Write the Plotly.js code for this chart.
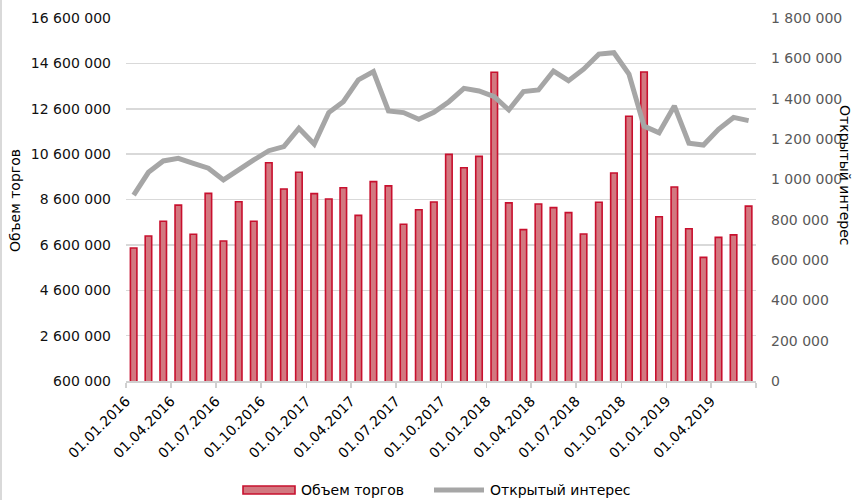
<!DOCTYPE html>
<html>
<head>
<meta charset="utf-8">
<script src="https://cdn.plot.ly/plotly-3.0.1.min.js"></script>
<style>html,body{margin:0;padding:0;background:#fff}#chart{width:859px;height:500px}</style>
</head>
<body>
<div id="chart"></div>
<script>
// Monthly dates (first day of each month), Jan 2016 – Jun 2019
const months = [
  "2016-01-01","2016-02-01","2016-03-01","2016-04-01","2016-05-01","2016-06-01",
  "2016-07-01","2016-08-01","2016-09-01","2016-10-01","2016-11-01","2016-12-01",
  "2017-01-01","2017-02-01","2017-03-01","2017-04-01","2017-05-01","2017-06-01",
  "2017-07-01","2017-08-01","2017-09-01","2017-10-01","2017-11-01","2017-12-01",
  "2018-01-01","2018-02-01","2018-03-01","2018-04-01","2018-05-01","2018-06-01",
  "2018-07-01","2018-08-01","2018-09-01","2018-10-01","2018-11-01","2018-12-01",
  "2019-01-01","2019-02-01","2019-03-01","2019-04-01","2019-05-01","2019-06-01"
];
// Объем торгов (left axis)
const volume = [
  6460000, 6990000, 7640000, 8350000, 7070000, 8870000,
  6770000, 8500000, 7640000, 10220000, 9060000, 9800000,
  8860000, 8620000, 9120000, 7900000, 9390000, 9200000,
  7510000, 8150000, 8490000, 10590000, 10000000, 10500000,
  14210000, 8450000, 7270000, 8400000, 8240000, 8020000,
  7080000, 8480000, 9770000, 12270000, 14220000, 7840000,
  9150000, 7310000, 6050000, 6930000, 7040000, 8310000
];
// Открытый интерес (right axis)
const openInterest = [
  922000, 1035000, 1091000, 1104000, 1079000, 1055000,
  997000, 1050000, 1096000, 1142000, 1162000, 1253000,
  1175000, 1331000, 1385000, 1493000, 1534000, 1339000,
  1331000, 1298000, 1332000, 1385000, 1451000, 1438000,
  1410000, 1344000, 1435000, 1443000, 1537000, 1489000,
  1546000, 1621000, 1628000, 1522000, 1264000, 1231000,
  1364000, 1179000, 1170000, 1248000, 1307000, 1291000
];
// Tick labels (quarterly), last tick at axis end is unlabeled
const tickDates = ["2016-01-01","2016-04-01","2016-07-01","2016-10-01",
  "2017-01-01","2017-04-01","2017-07-01","2017-10-01",
  "2018-01-01","2018-04-01","2018-07-01","2018-10-01",
  "2019-01-01","2019-04-01","2019-07-01"];
const tickLabels = ["01.01.2016","01.04.2016","01.07.2016","01.10.2016",
  "01.01.2017","01.04.2017","01.07.2017","01.10.2017",
  "01.01.2018","01.04.2018","01.07.2018","01.10.2018",
  "01.01.2019","01.04.2019",""];
const seriesNames = ["Объем торгов", "Открытый интерес"];
const leftTitle = "Объем торгов";
const rightTitle = "Открытый интерес";

const FONT = "DejaVu Sans";
const barFill = "#d27880";
const barLine = "#c8102e";
const lineColor = "#a6a6a6";

// helpers: pixel -> paper (plot area x 126..756, y 18..381)
const L = 126, R = 756, T = 18, B = 381;
const px = x => (x - L) / (R - L);
const py = y => (B - y) / (B - T);

const traces = [
  {
    type: "bar", name: seriesNames[0], x: months, y: volume,
    xperiod: "M1", xperiodalignment: "middle",
    width: 13.2 * 86400000,
    marker: {color: barFill, line: {color: barLine, width: 1.6}},
    showlegend: false, hoverinfo: "x+y"
  },
  {
    type: "scatter", mode: "lines", name: seriesNames[1], x: months, y: openInterest,
    xperiod: "M1", xperiodalignment: "middle",
    yaxis: "y2",
    line: {color: lineColor, width: 5, shape: "linear"},
    showlegend: false
  }
];

const layout = {
  width: 859, height: 500,
  margin: {l: L, r: 859 - R, t: T, b: 500 - B, pad: 0},
  paper_bgcolor: "#ffffff", plot_bgcolor: "#ffffff",
  font: {family: FONT, size: 14, color: "#000"},
  showlegend: false,
  xaxis: {
    type: "date",
    range: ["2016-01-01", "2019-07-01"],
    tickmode: "array", tickvals: tickDates, ticktext: tickLabels,
    tickangle: -45,
    ticks: "outside", ticklen: 5, tickcolor: "#d0d0d0", tickwidth: 1.5,
    showline: true, linecolor: "#d0d0d0", linewidth: 1.5,
    showgrid: false, zeroline: false,
    tickfont: {family: FONT, size: 14, color: "#000"}
  },
  yaxis: {
    range: [600000, 16600000], dtick: 2000000, tick0: 600000,
    tickformat: ",d",
    showgrid: true, gridcolor: "#d9d9d9", gridwidth: 1.5,
    zeroline: false, showline: false, ticks: "",
    ticklabelstandoff: 14,
    tickfont: {family: FONT, size: 14, color: "#111"}
  },
  yaxis2: {
    overlaying: "y", side: "right",
    range: [0, 1800000], dtick: 200000,
    tickformat: ",d",
    showgrid: false, zeroline: false, showline: false, ticks: "",
    ticklabelstandoff: 14,
    tickfont: {family: FONT, size: 14, color: "#595959"}
  },
  separators: ", ",
  annotations: [
    {xref: "paper", yref: "paper", x: px(15), y: py(200), text: leftTitle, textangle: -90,
     showarrow: false, xanchor: "center", yanchor: "middle", font: {family: FONT, size: 14, color: "#000"}},
    {xref: "paper", yref: "paper", x: px(845), y: py(175), text: rightTitle, textangle: 90,
     showarrow: false, xanchor: "center", yanchor: "middle", font: {family: FONT, size: 14, color: "#000"}},
    {xref: "paper", yref: "paper", x: px(299), y: py(490), text: seriesNames[0],
     showarrow: false, xanchor: "left", yanchor: "middle", font: {family: FONT, size: 14, color: "#000"}},
    {xref: "paper", yref: "paper", x: px(488), y: py(490), text: seriesNames[1],
     showarrow: false, xanchor: "left", yanchor: "middle", font: {family: FONT, size: 14, color: "#000"}}
  ],
  shapes: [
    {type: "rect", xref: "paper", yref: "paper", x0: px(243), x1: px(295), y0: py(494), y1: py(486),
     fillcolor: barFill, line: {color: barLine, width: 1.6}},
    {type: "line", xref: "paper", yref: "paper", x0: px(434), x1: px(484), y0: py(490), y1: py(490),
     line: {color: lineColor, width: 5}},
    {type: "line", xref: "paper", yref: "paper", x0: px(1), x1: px(1), y0: py(0), y1: py(500),
     line: {color: "#d9d9d9", width: 2}}
  ]
};

Plotly.newPlot("chart", traces, layout, {displayModeBar: false, staticPlot: true});
</script>
</body>
</html>
